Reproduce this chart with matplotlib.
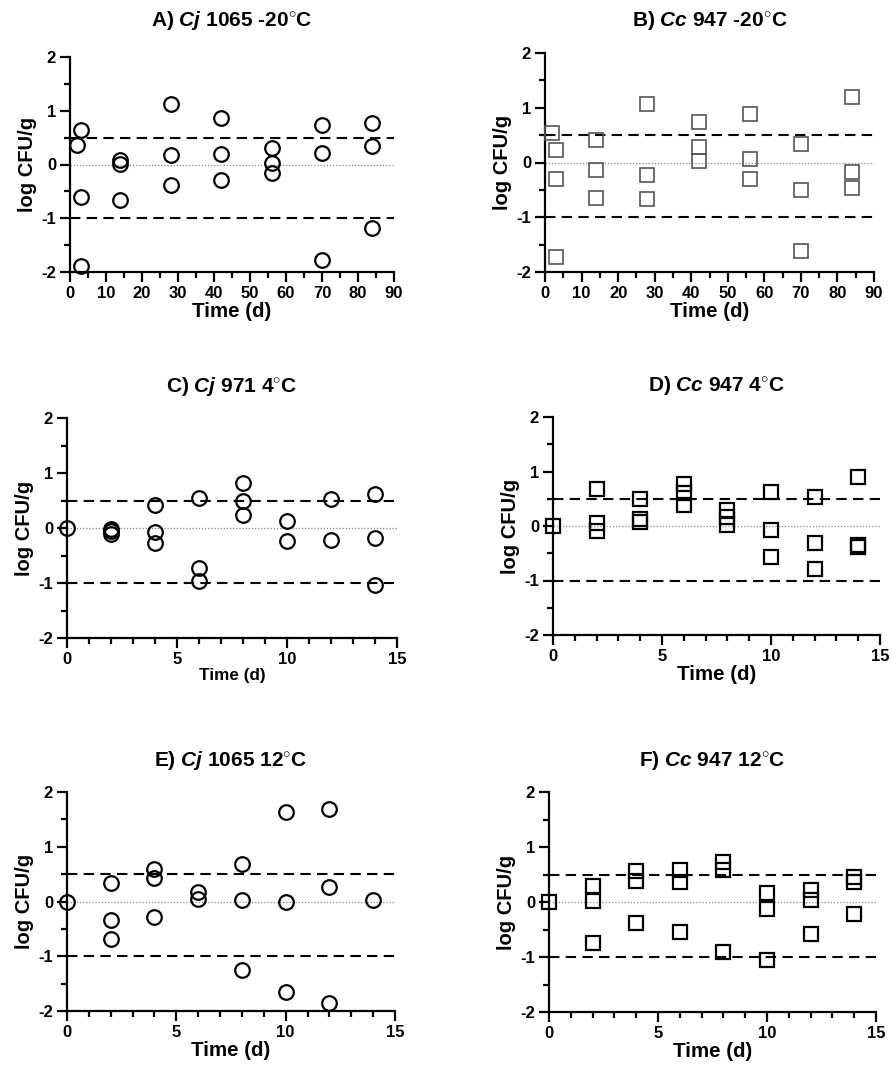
import matplotlib
matplotlib.use("Agg")
import matplotlib.pyplot as plt
from matplotlib.ticker import MultipleLocator

plt.rcParams['font.family'] = ['Liberation Sans', 'DejaVu Sans']
plt.rcParams['font.weight'] = 'bold'
plt.rcParams['axes.unicode_minus'] = False
plt.rcParams['mathtext.fontset'] = 'custom'
plt.rcParams['mathtext.it'] = 'Liberation Sans:italic:bold'
plt.rcParams['mathtext.rm'] = 'Liberation Sans:bold'

# A) Cj 1065 -20C
a_x = [2, 3, 3, 3, 14, 14, 14, 28, 28, 28, 42, 42, 42, 56, 56, 56, 70, 70, 70, 84, 84, 84]
a_y = [0.37, 0.64, -0.61, -1.89, 0.09, 0.01, -0.66, 1.12, 0.17, -0.38, 0.86, 0.20, -0.29,
       0.31, 0.02, -0.15, 0.73, 0.22, -1.78, 0.78, 0.35, -1.18]
# B) Cc 947 -20C
b_x = [2, 3, 3, 3, 14, 14, 14, 28, 28, 28, 42, 42, 42, 56, 56, 56, 70, 70, 70, 84, 84, 84]
b_y = [0.53, 0.23, -0.31, -1.72, 0.42, -0.14, -0.64, 1.06, -0.23, -0.67, 0.74, 0.28, 0.02,
       0.89, 0.06, -0.30, 0.34, -0.50, -1.61, 1.19, -0.17, -0.47]
# C) Cj 971 4C
c_x = [0, 2, 2, 2, 4, 4, 4, 6, 6, 6, 8, 8, 8, 10, 10, 12, 12, 14, 14, 14]
c_y = [0, -0.02, -0.06, -0.10, 0.41, -0.07, -0.27, 0.55, -0.72, -0.96, 0.81, 0.49, 0.24,
       0.12, -0.24, 0.52, -0.22, 0.62, -0.18, -1.04]
# D) Cc 947 4C
d_x = [0, 2, 2, 2, 4, 4, 4, 6, 6, 6, 8, 8, 8, 10, 10, 10, 12, 12, 12, 14, 14, 14]
d_y = [0, 0.67, 0.06, -0.09, 0.50, 0.12, 0.08, 0.77, 0.60, 0.38, 0.30, 0.17, 0.02,
       0.62, -0.07, -0.56, 0.54, -0.31, -0.78, 0.89, -0.34, -0.38]
# E) Cj 1065 12C
e_x = [0, 2, 2, 2, 4, 4, 4, 6, 6, 8, 8, 8, 10, 10, 10, 12, 12, 12, 14]
e_y = [0, 0.33, -0.34, -0.68, 0.60, 0.43, -0.28, 0.18, 0.04, 0.68, 0.03, -1.25,
       1.64, -0.01, -1.66, 1.69, 0.27, -1.85, 0.02]
# F) Cc 947 12C
f_x = [0, 2, 2, 2, 4, 4, 4, 6, 6, 6, 8, 8, 8, 10, 10, 10, 12, 12, 12, 14, 14, 14]
f_y = [0, 0.30, 0.02, -0.75, 0.57, 0.39, -0.39, 0.59, 0.36, -0.54, 0.73, 0.59, -0.90,
       0.16, -0.12, -1.05, 0.22, 0.04, -0.59, 0.46, 0.36, -0.22]

deg = r'$^{\circ}$C'
titles = [r'A) $\mathit{Cj}$ 1065 -20' + deg, r'B) $\mathit{Cc}$ 947 -20' + deg,
          r'C) $\mathit{Cj}$ 971 4' + deg, r'D) $\mathit{Cc}$ 947 4' + deg,
          r'E) $\mathit{Cj}$ 1065 12' + deg, r'F) $\mathit{Cc}$ 947 12' + deg]

fig = plt.figure(figsize=(8.92, 10.66), dpi=100)

# axes boxes in pixels: left, right, top, bottom
boxes = [(70, 394, 57, 272), (545, 874, 53, 272),
         (67, 397, 418, 638), (553, 880, 417, 635),
         (67, 395, 792, 1011), (549, 876, 792, 1012)]
title_pads = [22, 19.5, 19, 18.5, 18.5, 19]
W, H = 892.0, 1066.0

panels = [(a_x, a_y, 'o', 90), (b_x, b_y, 's', 90),
          (c_x, c_y, 'o', 15), (d_x, d_y, 's', 15),
          (e_x, e_y, 'o', 15), (f_x, f_y, 's', 15)]

for i, ((x, y, mk, xmax), (l, r, t, b)) in enumerate(zip(panels, boxes)):
    ax = fig.add_axes([l / W, 1 - b / H, (r - l) / W, (b - t) / H])
    ax.set_xlim(0, xmax)
    ax.set_ylim(-2, 2)
    ax.axhline(0, color='#888888', lw=0.9, ls=(0, (1, 1.5)), zorder=1)
    ax.axhline(0.5, color='black', lw=1.5, ls=(0, (5, 3)), zorder=1)
    ax.axhline(-1, color='black', lw=1.5, ls=(0, (5, 3)), zorder=1)
    if i == 1:
        ax.plot(x, y, mk, mfc='none', mec='#555555', mew=1.2, ms=10.5, clip_on=False, zorder=3)
    else:
        ax.plot(x, y, mk, mfc='none', mec='black', mew=1.6, ms=10.5, clip_on=False, zorder=3)
    for s in ['top', 'right']:
        ax.spines[s].set_visible(False)
    for s in ['left', 'bottom']:
        ax.spines[s].set_linewidth(1.6)
    ax.yaxis.set_major_locator(MultipleLocator(1))
    ax.yaxis.set_minor_locator(MultipleLocator(0.5))
    if xmax == 90:
        ax.xaxis.set_major_locator(MultipleLocator(10))
        ax.xaxis.set_minor_locator(MultipleLocator(5))
    else:
        ax.xaxis.set_major_locator(MultipleLocator(5))
        ax.xaxis.set_minor_locator(MultipleLocator(1))
    ax.tick_params(which='major', length=7, width=1.6, labelsize=12, pad=3)
    ax.tick_params(which='minor', length=4.5, width=1.6)
    ax.set_ylabel('log CFU/g', fontsize=14.5, fontweight='bold', labelpad=3)
    ax.set_xlabel('Time (d)', fontsize=12.3 if i == 2 else 14.8, fontweight='bold', labelpad=1)
    ax.set_title(titles[i], fontsize=15, fontweight='bold', pad=title_pads[i])

plt.savefig("out.png", dpi=100)
